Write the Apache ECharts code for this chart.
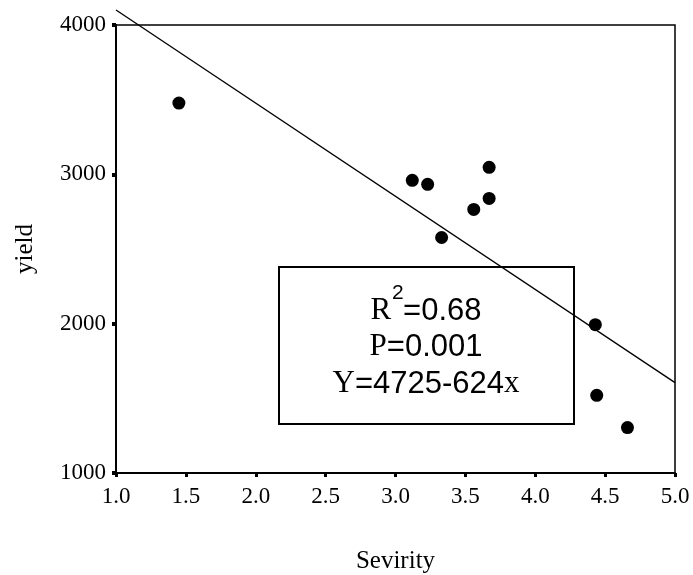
<!DOCTYPE html>
<html>
<head>
<meta charset="utf-8">
<script src="https://cdn.jsdelivr.net/npm/echarts@6/dist/echarts.min.js"></script>
<style>
  html, body { margin: 0; padding: 0; background: #fff; }
  #chart { width: 693px; height: 575px; }
</style>
</head>
<body>
<div id="chart"></div>
<script>
// 数据：severity 与 yield 的散点
const severity = [1.45, 3.12, 3.23, 3.67, 3.67, 3.56, 3.33, 4.43, 4.44, 4.66]
const yieldVals = [3477, 2960, 2933, 3047, 2839, 2765, 2577, 1993, 1520, 1304]
// 回归方程 Y = 4725 - 624x
const intercept = 4725
const slope = -624
const xTicks = [1.0, 1.5, 2.0, 2.5, 3.0, 3.5, 4.0, 4.5, 5.0]
const yTicks = [1000, 2000, 3000, 4000]

const serif = '"Liberation Serif", "Times New Roman", serif'
const sans = '"Liberation Sans", Arial, sans-serif'

const points = severity.map((x, i) => [x, yieldVals[i]])
const xMin = xTicks[0], xMax = xTicks[xTicks.length - 1]
const fitLine = [xMin, xMax].map(x => [x, intercept + slope * x])

const chart = echarts.init(document.getElementById('chart'))

// 文本框里的三行文字
const richStyle = {
  s: { fontFamily: serif, fontSize: 31, color: '#000' },
  n: { fontFamily: sans, fontSize: 31, color: '#000' },
  gap: { width: 12 }
}
const boxText = (y, text) => ({
  type: 'text',
  x: 147, y: y,
  style: { text: text, align: 'center', verticalAlign: 'middle', rich: richStyle }
})

const option = {
  animation: false,
  backgroundColor: '#fff',
  grid: {
    left: 116, right: 18, top: 25, bottom: 102,
    outerBoundsMode: 'none',
    show: true, borderColor: '#000', borderWidth: 1.5
  },
  xAxis: {
    type: 'value',
    min: xMin, max: xMax, interval: 0.5,
    name: 'Sevirity',
    nameLocation: 'middle',
    nameGap: 76,
    nameTextStyle: { fontFamily: serif, fontSize: 25, color: '#000' },
    splitLine: { show: false },
    axisLine: { lineStyle: { color: '#000', width: 2 } },
    axisTick: { length: 4, lineStyle: { color: '#000', width: 3 } },
    axisLabel: {
      margin: 12,
      fontFamily: serif, fontSize: 23, color: '#000',
      formatter: v => v.toFixed(1)
    }
  },
  yAxis: {
    type: 'value',
    min: yTicks[0], max: yTicks[yTicks.length - 1], interval: 1000,
    name: 'yield',
    nameLocation: 'middle',
    nameGap: 78,
    nameTextStyle: { fontFamily: serif, fontSize: 25, color: '#000' },
    splitLine: { show: false },
    axisLine: { lineStyle: { color: '#000', width: 2 } },
    axisTick: { length: 4, lineStyle: { color: '#000', width: 4 } },
    axisLabel: {
      margin: 10,
      fontFamily: serif, fontSize: 23, color: '#000',
      formatter: v => String(v)
    }
  },
  series: [
    {
      type: 'scatter',
      data: points,
      symbolSize: 13,
      itemStyle: { color: '#000', opacity: 1 }
    },
    {
      type: 'line',
      data: fitLine,
      clip: false,
      showSymbol: false,
      lineStyle: { color: '#000', width: 1.3 },
      z: 1
    }
  ],
  graphic: [
    {
      type: 'group',
      left: 278, top: 266,
      children: [
        {
          type: 'rect',
          shape: { x: 0, y: 0, width: 295, height: 157 },
          style: { fill: '#fff', stroke: '#000', lineWidth: 2 }
        },
        boxText(44, '{s|R}{gap|}{n|=0.68}'),
        {
          type: 'text',
          x: 113, y: 16,
          style: { text: '2', fontFamily: sans, fontSize: 21, fill: '#000', align: 'left', verticalAlign: 'top' }
        },
        boxText(80, '{s|P}{n|=0.001}'),
        boxText(117, '{s|Y}{n|=4725-624}{s|x}')
      ]
    }
  ]
}

chart.setOption(option)
</script>
</body>
</html>
